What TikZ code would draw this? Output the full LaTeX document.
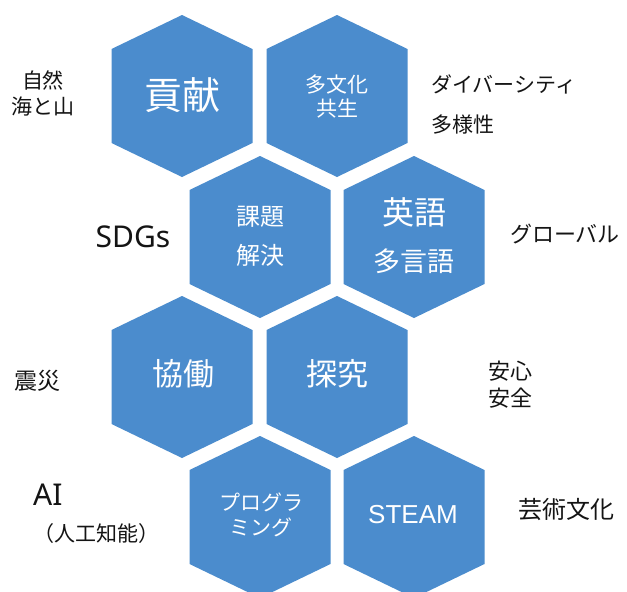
\documentclass[tikz,border=0pt]{standalone}
\usepackage{fontspec}
\setmainfont{Noto Sans CJK JP}
\newfontfamily\latinsans{Noto Sans}
\newfontfamily\arialfont{Liberation Sans}
\definecolor{hexblue}{RGB}{75,140,205}
\definecolor{labelink}{RGB}{20,20,20}
\newcommand\hexcell[2]{%
  \fill[hexblue] (#1,#2) ++(0,-81) -- ++(70.5,34) -- ++(0,94) -- ++(-70.5,34)
    -- ++(-70.5,-34) -- ++(0,-94) -- cycle;}
\tikzset{
  hextext/.style={text=white, align=center, inner sep=0pt},
  sidelabel/.style={text=labelink, align=center, inner sep=0pt},
}
\begin{document}
\begin{tikzpicture}[x=1pt,y=-1pt]
\useasboundingbox (0,0) rectangle (627,592);
\fill[white] (0,0) rectangle (627,592);
% hexagons
\hexcell{182}{96}
\hexcell{337}{96}
\hexcell{260}{237}
\hexcell{414}{237}
\hexcell{182}{377}
\hexcell{337}{377}
\hexcell{260}{517}
\hexcell{414}{517}
% hexagon texts
\node[hextext, font=\fontsize{38}{40}\selectfont] (koken) at (182,95) {貢献};
\node[hextext, font=\fontsize{21}{24}\selectfont] (tabunka) at (337,97) {多文化\\共生};
\node[hextext, font=\fontsize{24}{39}\selectfont] (kadai) at (260,236) {課題\\解決};
\node[hextext, font=\fontsize{27}{47}\selectfont] (eigo) at (414,236) {{\fontsize{32}{47}\selectfont 英語}\\多言語};
\node[hextext, font=\fontsize{31}{34}\selectfont] (kyodo) at (183,374) {協働};
\node[hextext, font=\fontsize{31}{34}\selectfont] (tankyu) at (337,374) {探究};
\node[hextext, font=\fontsize{21}{25}\selectfont] (prog) at (261,515) {プログラ\\ミング};
\node[hextext, font=\arialfont\fontsize{26}{30}\selectfont] (steam) at (413,515) {STEAM};
% side labels
\node[sidelabel, font=\fontsize{21}{26}\selectfont] (shizen) at (43,93) {自然\\海と山};
\node[sidelabel, align=left, anchor=west, font=\fontsize{21}{40}\selectfont] (diversity) at (431,104) {ダイバーシティ\\多様性};
\node[sidelabel, font=\latinsans\fontsize{30}{34}\selectfont] (sdgs) at (133,237) {SDGs};
\node[sidelabel, font=\fontsize{22}{26}\selectfont] (global) at (565,234) {グローバル};
\node[sidelabel, font=\fontsize{23}{26}\selectfont] (shinsai) at (37,381) {震災};
\node[sidelabel, font=\fontsize{22}{27}\selectfont] (anshin) at (510,385) {安心\\安全};
\node[sidelabel, align=left, anchor=west, font=\fontsize{21}{36}\selectfont] (ai) at (33,514) {{\latinsans\fontsize{30}{36}\selectfont AI}\\（人工知能）};
\node[sidelabel, font=\fontsize{24}{28}\selectfont] (geijutsu) at (566,510) {芸術文化};
\end{tikzpicture}
\end{document}
